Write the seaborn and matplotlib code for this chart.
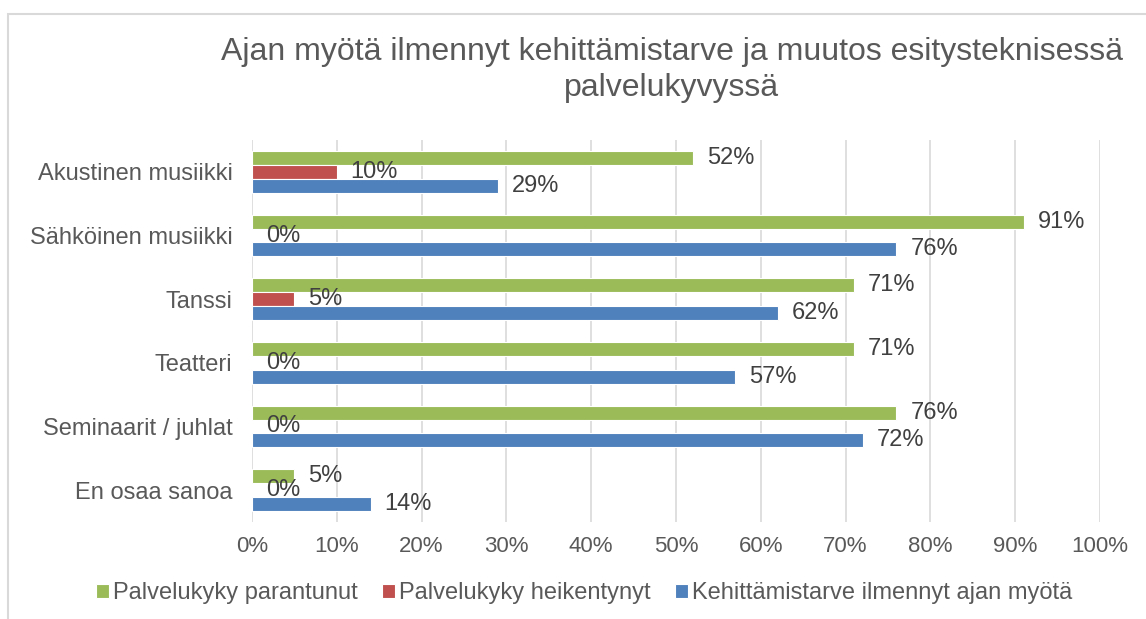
import matplotlib
matplotlib.use("Agg")
import matplotlib.pyplot as plt
import seaborn as sns
import pandas as pd
from matplotlib.patches import Rectangle

categories = ["Akustinen musiikki", "Sähköinen musiikki", "Tanssi", "Teatteri",
              "Seminaarit / juhlat", "En osaa sanoa"]
series_names = ["Palvelukyky parantunut", "Palvelukyky heikentynyt",
                "Kehittämistarve ilmennyt ajan myötä"]
parantunut = [52, 91, 71, 71, 76, 5]
heikentynyt = [10, 0, 5, 0, 0, 0]
kehittamistarve = [29, 76, 62, 57, 72, 14]
x_ticks = [0, 10, 20, 30, 40, 50, 60, 70, 80, 90, 100]
title = "Ajan myötä ilmennyt kehittämistarve ja muutos esitysteknisessä\npalvelukyvyssä"

colors = ["#9BBB59", "#C0504D", "#4F81BD"]

df = pd.DataFrame({
    "kategoria": categories * 3,
    "sarja": [series_names[0]] * 6 + [series_names[1]] * 6 + [series_names[2]] * 6,
    "arvo": parantunut + heikentynyt + kehittamistarve,
})

sns.set_theme(style="white")
plt.rcParams["font.family"] = ["Liberation Sans", "DejaVu Sans"]

fig = plt.figure(figsize=(11.46, 6.19), dpi=100)
ax = fig.add_axes([252 / 1146, 1 - 522 / 619, (1100 - 252) / 1146, (522 - 140) / 619])

sns.barplot(data=df, y="kategoria", x="arvo", hue="sarja", hue_order=series_names,
            palette=colors, saturation=1, orient="h", width=0.65, edgecolor="white",
            linewidth=0.8, ax=ax, legend=True)

for cont in ax.containers:
    labels = [f"{v:.0f}%" for v in cont.datavalues]
    ax.bar_label(cont, labels=labels, padding=10, fontsize=17, color="#404040")

ax.set_xlim(0, 100)
ax.set_xticks(x_ticks)
ax.set_xticklabels([f"{t}%" for t in x_ticks], fontsize=16, color="#595959")
ax.tick_params(axis="y", labelsize=17, labelcolor="#595959", length=0, pad=14)
ax.tick_params(axis="x", length=0, pad=10)
ax.set_xlabel("")
ax.set_ylabel("")
ax.xaxis.grid(True, color="#D9D9D9", linewidth=1.2)
ax.set_axisbelow(True)
for s in ax.spines.values():
    s.set_visible(False)

handles, labs = ax.get_legend_handles_labels()
ax.legend_.remove()
fig.legend(handles, labs, loc="center", bbox_to_anchor=(584 / 1146, 1 - 593 / 619), ncol=3,
           frameon=False, fontsize=17, labelcolor="#595959", handlelength=0.55,
           handleheight=0.55, handletextpad=0.2, columnspacing=1.0)

fig.text(672 / 1146, 1 - 70 / 619, title, ha="center", va="center", fontsize=23,
         color="#595959", linespacing=1.25)

fig.patches.append(Rectangle((8 / 1146, -0.1), 1.2, 1 - 14 / 619 + 0.1,
                             transform=fig.transFigure, fill=False,
                             edgecolor="#D9D9D9", linewidth=1.5))

fig.savefig("out.png", dpi=100)
